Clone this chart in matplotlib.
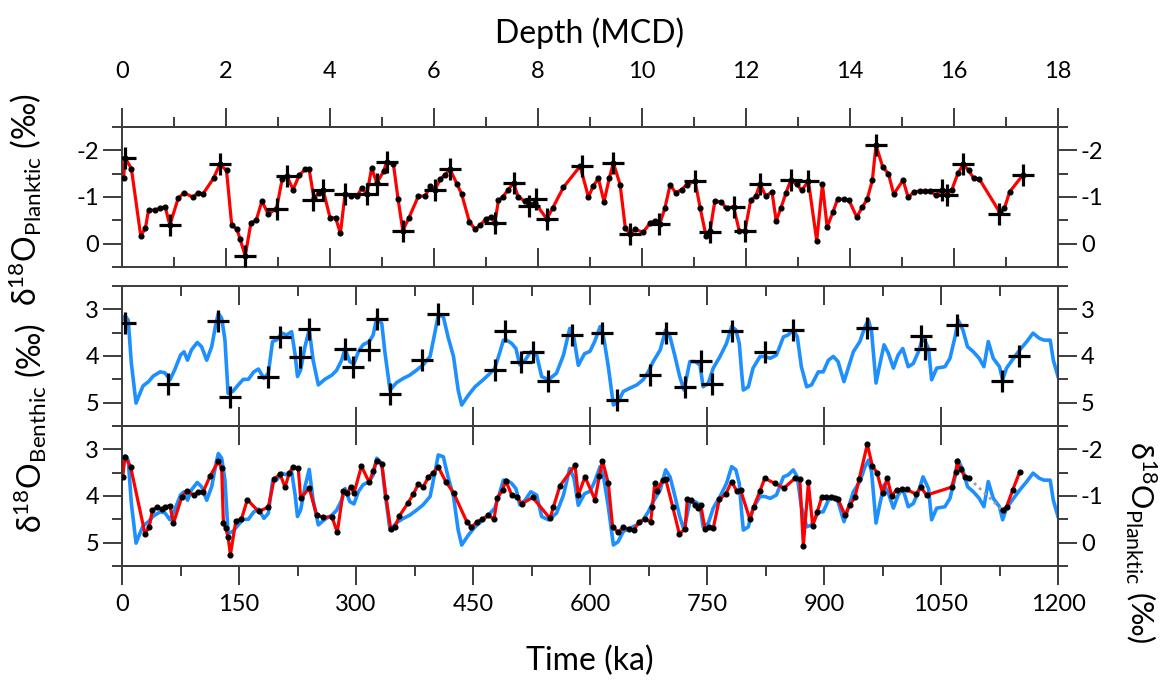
import numpy as np
import matplotlib
matplotlib.use('Agg')
import matplotlib.pyplot as plt
from matplotlib.ticker import MultipleLocator, FixedLocator

# fontes: Lato parecido com Calibri, DejaVu para simbolos que faltam
plt.rcParams['font.family'] = ['Lato', 'DejaVu Sans']
plt.rcParams['mathtext.fontset'] = 'custom'
plt.rcParams['mathtext.rm'] = 'Lato'
plt.rcParams['mathtext.it'] = 'Lato:italic'
plt.rcParams['axes.unicode_minus'] = False

# planktic d18O na profundidade (m MCD) - painel de cima
plank_depth = np.array([
    0.03, 0.06, 0.18, 0.36, 0.45, 0.51, 0.63, 0.74, 0.83, 0.92, 1.08, 1.19, 1.36, 1.47,
    1.56, 1.76, 1.88, 2.01, 2.11, 2.21, 2.27, 2.37, 2.48, 2.58, 2.69, 2.81, 2.97, 3.08,
    3.17, 3.29, 3.41, 3.52, 3.60, 3.69, 3.78, 3.87, 4.00, 4.11, 4.20, 4.29, 4.41, 4.52,
    4.61, 4.71, 4.80, 4.90, 5.03, 5.09, 5.22, 5.31, 5.40, 5.52, 5.70, 5.83, 5.93, 6.02,
    6.12, 6.21, 6.31, 6.44, 6.53, 6.68, 6.79, 6.89, 7.00, 7.09, 7.17, 7.24, 7.32, 7.43,
    7.53, 7.62, 7.75, 7.83, 7.94, 8.17, 8.28, 8.49, 8.81, 8.97, 9.06, 9.16, 9.27, 9.37,
    9.45, 9.58, 9.68, 9.77, 9.87, 10.02, 10.16, 10.25, 10.34, 10.44, 10.54, 10.65, 10.76,
    10.86, 11.02, 11.12, 11.23, 11.31, 11.40, 11.51, 11.63, 11.76, 11.87, 11.98, 12.09,
    12.19, 12.27, 12.38, 12.50, 12.58, 12.67, 12.77, 12.86, 12.98, 13.07, 13.20, 13.36,
    13.47, 13.56, 13.67, 13.76, 13.88, 13.98, 14.13, 14.24, 14.33, 14.43, 14.50, 14.63,
    14.74, 14.84, 15.02, 15.12, 15.23, 15.35, 15.44, 15.53, 15.65, 15.77, 15.86, 15.96,
    16.08, 16.18, 16.28, 16.38, 16.49, 16.88, 16.97, 17.07, 17.33])
plank_d18o = np.array([
    -1.40, -1.84, -1.61, -0.17, -0.33, -0.72, -0.72, -0.76, -0.79, -0.40, -0.97, -1.09, -1.00, -1.09,
    -1.07, -1.40, -1.70, -1.57, -0.40, -0.31, -0.10, 0.26, -0.45, -0.50, -0.91, -0.64, -0.74, -1.38,
    -1.45, -1.16, -1.47, -1.59, -1.59, -0.97, -1.09, -1.14, -0.56, -0.55, -0.22, -1.07, -1.02, -1.02,
    -1.19, -1.06, -1.62, -1.30, -1.55, -1.75, -1.70, -0.95, -0.28, -0.56, -1.02, -1.02, -1.23, -1.16,
    -1.38, -1.48, -1.59, -1.28, -1.07, -0.47, -0.31, -0.40, -0.53, -0.57, -0.45, -0.93, -1.00, -1.16,
    -1.30, -1.00, -0.91, -0.84, -0.88, -0.53, -0.76, -1.21, -1.66, -1.00, -1.23, -1.40, -0.90, -1.40,
    -1.73, -1.26, -0.33, -0.21, -0.31, -0.24, -0.45, -0.49, -0.42, -0.76, -1.26, -1.09, -1.16,
    -1.26, -1.34, -0.76, -0.17, -0.28, -0.91, -0.90, -0.76, -0.79, -0.28, -0.28, -0.93,
    -1.02, -1.28, -1.02, -1.11, -0.49, -0.76, -1.09, -1.36, -1.27, -1.14, -1.34, -0.06,
    -1.27, -0.36, -0.67, -0.95, -0.95, -0.93, -0.57, -0.79, -0.95, -1.36, -2.11, -1.64,
    -1.50, -1.06, -1.36, -0.99, -1.11, -1.13, -1.13, -1.13, -1.04, -1.14, -1.04, -1.16,
    -1.52, -1.70, -1.57, -1.40, -1.38, -0.67, -0.76, -1.11, -1.48])

# pontos de amarracao (+) no painel planktic
tie_p_depth = np.array([0.06, 0.92, 1.88, 2.37, 2.98, 3.17, 3.68, 3.87, 4.29, 4.71, 4.90, 5.09,
                        5.40, 6.02, 6.31, 7.17, 7.53, 7.83, 7.97, 8.17, 8.84, 9.45, 9.77, 10.33,
                        11.02, 11.31, 11.76, 11.98, 12.27, 12.86, 13.20, 14.50, 15.76, 15.86,
                        16.18, 16.87, 17.33])
tie_p_d18o = np.array([-1.84, -0.40, -1.70, 0.26, -0.74, -1.45, -0.93, -1.14, -1.07, -1.06, -1.27, -1.75,
                       -0.28, -1.16, -1.59, -0.45, -1.30, -0.81, -0.95, -0.53, -1.66, -1.73, -0.21, -0.42,
                       -1.34, -0.24, -0.79, -0.28, -1.28, -1.36, -1.34, -2.11, -1.14, -1.04,
                       -1.70, -0.63, -1.48])

# benthic d18O (ka)
benth_age = np.array([
    0, 4, 8, 12, 18, 22, 27, 34, 40, 49, 55, 61.5, 68, 75, 79.5, 84, 89, 96.5, 102, 108.6,
    115, 120.5, 123.5, 127.8, 132, 136, 142, 149, 155.5, 162, 169, 175, 182, 187.6, 193, 198,
    205, 211, 217.5, 222, 225, 229, 234.6, 240, 245, 251.7, 260, 269, 275, 281.6, 286, 292,
    297.4, 303, 309, 317, 322, 326.5, 333, 337, 343.6, 352, 360.6, 369, 377.8, 386, 395, 401,
    405.5, 412, 418, 425, 431, 435.5, 444, 452.6, 463, 472, 478, 484.6, 489, 493, 499.6, 505,
    510, 516.7, 524, 531.6, 538, 546.6, 557, 566, 574, 579.5, 585, 593, 600, 606, 613, 617,
    623.5, 630, 636, 642.7, 651, 660, 668, 674.7, 681, 690, 697, 702.6, 709, 715, 720.5, 728,
    734.6, 741, 745, 751.7, 758, 766.7, 775, 781.6, 787, 791.4, 794.5, 796.6, 803, 809, 818,
    824, 831, 839, 848, 854, 860.6, 865.8, 871, 877.8, 884, 892.7, 899, 905.6, 912, 918,
    925.6, 931, 937.6, 946, 952.6, 957, 961, 966.7, 971.8, 977, 982.5, 989, 995, 1001, 1008,
    1014.5, 1021, 1027, 1034, 1038, 1044.5, 1055, 1061.5, 1068, 1072, 1078, 1084, 1091.5,
    1099, 1105, 1110.6, 1117, 1125, 1129, 1134, 1143, 1151, 1160, 1168, 1176, 1182, 1190,
    1194, 1200])
benth_d18o = np.array([
    3.23, 3.14, 3.23, 4.16, 5.01, 4.84, 4.64, 4.55, 4.43, 4.34, 4.36, 4.51, 4.28, 3.98, 3.91, 4.09, 3.87, 3.71, 3.80, 4.09,
    3.80, 3.30, 3.09, 3.19, 3.66, 4.80, 4.76, 4.62, 4.50, 4.50, 4.34, 4.28, 4.48, 4.37, 3.69, 3.66,
    3.51, 3.55, 3.48, 3.98, 4.44, 4.30, 3.80, 3.43, 4.09, 4.62, 4.50, 4.41, 4.31, 4.09, 3.84, 4.12,
    4.17, 3.91, 3.76, 3.69, 3.55, 3.19, 3.30, 3.91, 4.73, 4.57, 4.48, 4.41, 4.30, 4.19, 4.01, 3.51,
    3.12, 3.16, 3.59, 4.01, 4.73, 5.05, 4.84, 4.66, 4.51, 4.37, 4.26, 3.91, 3.66, 3.66, 3.73, 3.84,
    4.19, 4.09, 3.91, 3.98, 4.44, 4.51, 4.37, 3.98, 3.41, 3.62, 4.20, 3.95, 3.90, 3.69, 3.37, 3.55,
    4.23, 5.05, 4.98, 4.76, 4.69, 4.62, 4.51, 4.34, 4.12, 3.87, 3.44, 3.59, 4.01, 4.44, 4.73, 4.12,
    4.12, 4.19, 4.66, 4.58, 4.26, 4.01, 3.73, 3.37, 3.44, 3.73, 4.37, 4.73, 4.66, 4.26, 4.01,
    4.01, 4.05, 3.98, 3.59, 3.55, 3.44, 3.59, 4.23, 4.66, 4.62, 4.34, 4.34, 4.09, 4.01, 4.12,
    4.55, 4.26, 3.91, 3.69, 3.37, 3.23, 3.48, 4.58, 4.16, 3.76, 3.94, 4.26, 3.98, 3.84, 4.23,
    4.16, 3.91, 3.59, 3.84, 4.51, 4.26, 4.23, 4.05, 3.59, 3.23, 3.44, 3.80, 3.91,
    4.05, 4.23, 3.69, 4.05, 4.23, 4.51, 4.26, 4.05, 3.87, 3.69, 3.51, 3.62, 3.66, 3.66,
    4.09, 4.44])

# pontos de amarracao (+) no painel benthic
tie_b_age = np.array([4, 59, 123.5, 138.5, 187.6, 202.6, 228, 240, 286, 296.6, 317, 326.5, 343.6,
                      384, 405.5, 478, 491, 511, 526.5, 546.6, 577, 615, 635, 677, 697, 721.8,
                      742, 757, 781.6, 824, 860.6, 955.6, 1024, 1029.5, 1071, 1127.8, 1150])
tie_b_d18o = np.array([3.29, 4.60, 3.24, 4.88, 4.46, 3.60, 4.03, 3.43, 3.84, 4.23, 3.87, 3.21, 4.81,
                       4.09, 3.09, 4.30, 3.46, 4.12, 3.91, 4.53, 3.55, 3.51, 4.94, 4.41, 3.50, 4.66,
                       4.10, 4.60, 3.46, 3.91, 3.44, 3.39, 3.57, 3.84, 3.34, 4.53, 4.01])

# planktic na escala de idade (painel de baixo, eixo direito)
tuned_age = np.array([
    0.9, 3.8, 11, 29.5, 35, 39, 45, 51, 55, 61.5, 66, 76.5, 83, 92, 98, 104, 113, 123.5, 127.8,
    130, 133, 136, 139, 146, 153, 160.7, 175, 187.6, 195, 202.6, 209, 214.5, 219, 226, 229, 240,
    249.6, 258, 269, 276, 283.7, 289, 293, 297.4, 307, 317, 322, 326.5, 333, 338.5, 344.5, 350,
    355.5, 367, 373.5, 380, 386, 392.7, 399, 405.5, 415, 425, 442, 448, 455.5, 462, 469.6, 477,
    481, 488, 492, 499.6, 507, 512.4, 526.5, 548.7, 553, 561.5, 580.8, 585, 593.6, 606.4, 612,
    616, 623.5, 629, 636, 642.7, 650, 656.4, 663, 670.5, 677.8, 680, 683, 686, 693, 697, 706,
    714.5, 721.8, 724.8, 730, 734.6, 739, 742, 747.4, 753, 758, 765.8, 774, 781.6, 788, 793,
    805, 810, 818, 824, 837, 848.7, 862.8, 869, 873.5, 880, 885.5, 891.4, 897, 902.6, 908.6,
    914, 918, 927, 933, 939.7, 945, 955.6, 962, 968, 975, 981, 986.8, 993, 999.6, 1006, 1018,
    1024, 1031.6, 1063.7, 1069, 1071, 1075, 1080.8, 1086, 1129, 1134, 1142, 1151])
tuned_d18o = np.array([
    -1.41, -1.84, -1.63, -0.19, -0.34, -0.70, -0.76, -0.72, -0.77, -0.79, -0.42, -0.97, -1.11, -1.02, -1.09, -1.09, -1.43, -1.74, -1.59,
    -0.42, -0.31, -0.12, 0.26, -0.47, -0.50, -0.92, -0.67, -0.76, -1.36, -1.47, -1.19, -1.49, -1.62, -1.59, -0.95, -1.17,
    -0.59, -0.54, -0.56, -0.22, -1.11, -1.06, -1.20, -1.06, -1.64, -1.29, -1.54, -1.76, -1.69, -0.97, -0.29, -0.34,
    -0.57, -0.86, -1.04, -1.26, -1.19, -1.40, -1.50, -1.62, -1.31, -1.07, -0.45, -0.33, -0.45, -0.50, -0.59, -0.50,
    -0.95, -1.13, -1.33, -1.02, -0.97, -0.83, -0.97, -0.52, -0.76, -1.22, -1.66, -1.02, -1.41, -0.92, -1.43,
    -1.76, -1.27, -0.34, -0.22, -0.33, -0.29, -0.27, -0.45, -0.50, -0.45, -0.77, -1.27, -1.11, -1.34, -1.36, -0.77,
    -0.19, -0.29, -0.93, -0.92, -0.81, -0.74, -0.81, -0.29, -0.33, -0.31, -0.93, -1.04, -1.31, -1.11, -1.13,
    -0.50, -0.77, -1.11, -1.38, -1.27, -1.17, -1.38, -1.36, 0.07, -1.29, -0.36, -0.66, -0.97, -0.97, -0.97,
    -0.95, -0.93, -0.59, -0.81, -0.97, -1.36, -2.11, -1.64, -1.50, -1.06, -1.38, -1.00, -1.13, -1.14, -1.14, -1.04,
    -1.19, -1.02, -1.19, -1.52, -1.74, -1.57, -1.41, -1.38, -0.69, -0.77, -1.13, -1.52])

# ticks dos eixos x
depth_major = np.arange(0, 19, 2)
depth_minor = np.arange(1, 18, 2)
time_major = np.arange(0, 1201, 150)
time_minor = np.arange(75, 1200, 150)

axis_col = '#3c3c3c'
red = '#ff0000'
blue = '#1e8fff'
tick_fs = 17
label_fs = 23

fig = plt.figure(figsize=(11.73, 6.81), dpi=100)
W, H = 1173.0, 681.0
left, width, height = 122 / W, 936 / W, 140 / H
ax1 = fig.add_axes([left, 1 - 267 / H, width, height])
ax2 = fig.add_axes([left, 1 - 426 / H, width, height])
ax3 = fig.add_axes([left, 1 - 566 / H, width, height])
ax3r = ax3.twinx()


def estilo_y(ax, major, minor, lado):
    ax.yaxis.set_major_locator(FixedLocator(major))
    ax.yaxis.set_minor_locator(FixedLocator(minor))
    if lado == 'both':
        ax.tick_params(axis='y', which='both', left=True, right=True, labelleft=True, labelright=True)
    elif lado == 'left':
        ax.tick_params(axis='y', which='both', left=True, right=False, labelleft=True, labelright=False)
    else:
        ax.tick_params(axis='y', which='both', left=False, right=True, labelleft=False, labelright=True)
    ax.tick_params(axis='y', which='both', direction='out', color=axis_col, width=1.4,
                   labelsize=tick_fs, pad=3)
    ax.tick_params(axis='y', which='major', length=13.5)
    ax.tick_params(axis='y', which='minor', length=7)


def ticks_x(ax, major, minor):
    ax.xaxis.set_major_locator(FixedLocator(major))
    ax.xaxis.set_minor_locator(FixedLocator(minor))
    ax.tick_params(axis='x', which='major', length=13.5)
    ax.tick_params(axis='x', which='minor', length=7)


for ax in (ax1, ax2, ax3, ax3r):
    for s in ax.spines.values():
        s.set_color(axis_col)
        s.set_linewidth(1.4)

# painel 1: planktic x profundidade
ax1.plot(plank_depth, plank_d18o, color=red, lw=2.3, zorder=2)
ax1.plot(plank_depth, plank_d18o, 'o', color='black', ms=3.4, zorder=3)
ax1.plot(tie_p_depth, tie_p_d18o, '+', color='black', ms=16, mew=2.3, zorder=4)
ax1.set_xlim(0, 18)
ax1.set_ylim(0.5, -2.5)
ticks_x(ax1, depth_major, depth_minor)
ax1.tick_params(axis='x', which='both', direction='in', bottom=True, top=False,
                labelbottom=False, color=axis_col, width=1.4)
estilo_y(ax1, [-2, -1, 0], [-2.5, -1.5, -0.5, 0.5], 'both')

topo = ax1.secondary_xaxis('top')
ticks_x(topo, depth_major, depth_minor)
topo.tick_params(axis='x', which='both', direction='out', color=axis_col, width=1.4,
                 labelsize=tick_fs, pad=19)
topo.spines['top'].set_color(axis_col)
topo.spines['top'].set_linewidth(1.4)
topo.set_xlabel('Depth (MCD)', fontsize=label_fs, labelpad=13)

# painel 2: benthic
ax2.plot(benth_age, benth_d18o, color=blue, lw=2.6, zorder=2)
ax2.plot(tie_b_age, tie_b_d18o, '+', color='black', ms=16, mew=2.3, zorder=4)
ax2.set_xlim(0, 1200)
ax2.set_ylim(5.5, 2.5)
ax2.spines['bottom'].set_visible(False)
ticks_x(ax2, time_major, time_minor)
ax2.tick_params(axis='x', which='both', direction='in', bottom=False, top=True,
                labelbottom=False, color=axis_col, width=1.4)
estilo_y(ax2, [3, 4, 5], [2.5, 3.5, 4.5, 5.5], 'both')

# painel 3: comparacao benthic x planktic na escala de idade
ax3.plot(benth_age, benth_d18o, color=blue, lw=2.6, zorder=2)
ax3.set_xlim(0, 1200)
ax3.set_ylim(5.5, 2.5)
ticks_x(ax3, time_major, time_minor)
ax3.tick_params(axis='x', which='both', direction='out', bottom=True, top=False,
                color=axis_col, width=1.4, labelsize=tick_fs, pad=7)
estilo_y(ax3, [3, 4, 5], [2.5, 3.5, 4.5, 5.5], 'left')
ax3.set_xlabel('Time (ka)', fontsize=label_fs, labelpad=22)

juncao = ax3.secondary_xaxis('top')
juncao.xaxis.set_major_locator(FixedLocator(time_major))
juncao.xaxis.set_minor_locator(FixedLocator([]))
juncao.tick_params(axis='x', which='major', direction='inout', length=27, color=axis_col,
                   width=1.4, labeltop=False)
juncao.spines['top'].set_color(axis_col)
juncao.spines['top'].set_linewidth(1.4)

parte1 = tuned_age < 1100
ax3r.plot([tuned_age[parte1][-1], tuned_age[~parte1][0]],
          [tuned_d18o[parte1][-1], tuned_d18o[~parte1][0]],
          linestyle=(0, (1, 1.5)), color='#a0a0a0', lw=2, zorder=1)
for m in (parte1, ~parte1):
    ax3r.plot(tuned_age[m], tuned_d18o[m], color=red, lw=2.3, zorder=2)
    ax3r.plot(tuned_age[m], tuned_d18o[m], 'o', color='black', ms=3.4, zorder=3)
ax3r.set_ylim(0.5, -2.5)
estilo_y(ax3r, [-2, -1, 0], [-2.5, -1.5, -0.5, 0.5], 'right')

# rotulos dos eixos y
plank_lbl = 'δ$^{18}$O$_{\\mathrm{Planktic}}$ (‰)'
fig.text(25 / W, 1 - 200 / H, plank_lbl, rotation=90, ha='center', va='center', fontsize=label_fs)
fig.text(30 / W, 1 - 428 / H, 'δ$^{18}$O$_{\\mathrm{Benthic}}$ (‰)', rotation=90,
         ha='center', va='center', fontsize=label_fs)
fig.text(1141 / W, 1 - 542 / H, plank_lbl, rotation=270, ha='center', va='center', fontsize=22)

fig.savefig('out.png', dpi=100)
